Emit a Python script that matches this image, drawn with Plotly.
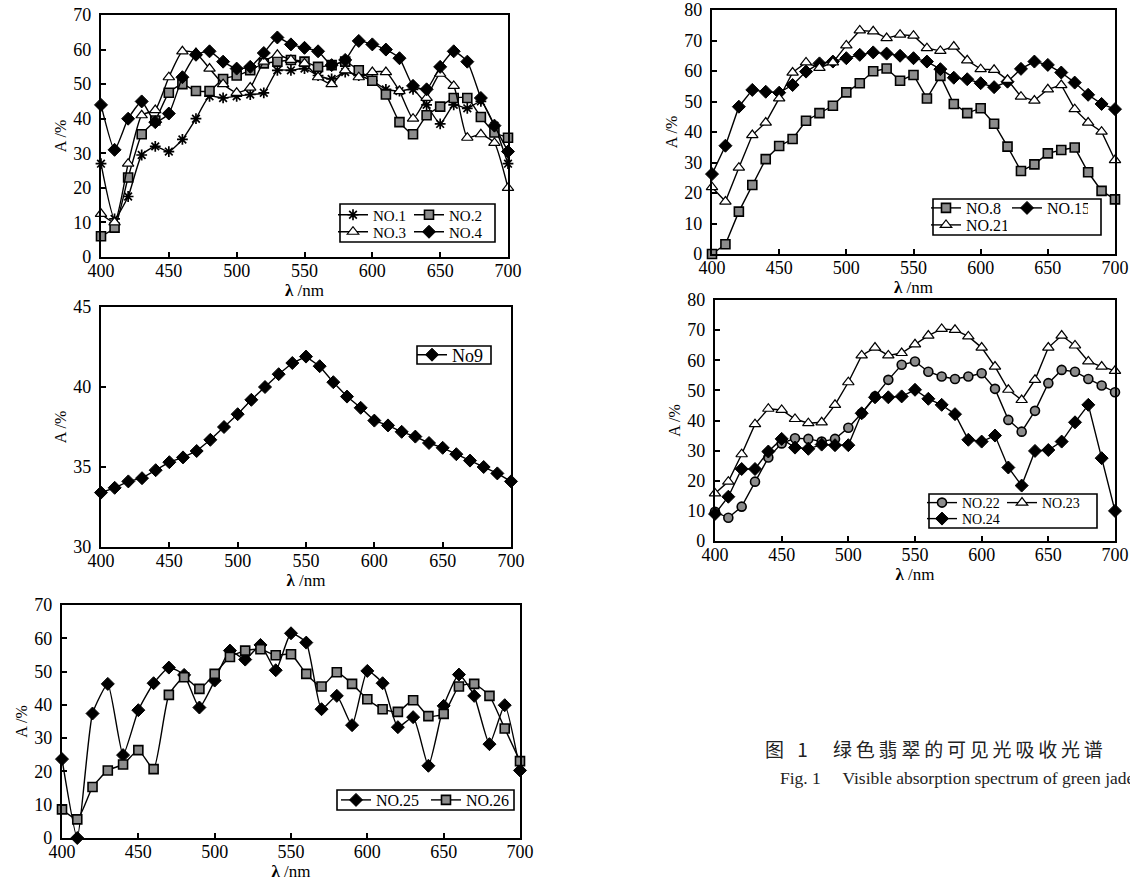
import plotly.graph_objects as go

# ---------------- data ----------------
WL = [400, 410, 420, 430, 440, 450, 460, 470, 480, 490, 500, 510, 520, 530, 540, 550,
      560, 570, 580, 590, 600, 610, 620, 630, 640, 650, 660, 670, 680, 690, 700]

NO1 = [27, 11, 17.5, 29.5, 32, 30.5, 34, 40, 46.5, 46, 46.5, 47, 47.5, 54, 54, 54.5,
       52.5, 51.5, 53.5, 52.5, 51, 48.5, 48, 48.5, 44, 38.5, 44, 43, 45, 38, 27]
NO2 = [6, 8.5, 23, 35.5, 39.5, 47.5, 50, 48, 48, 51.5, 52.5, 54, 56, 56.5, 57, 56.5,
       55, 55.5, 56.5, 54, 51, 47, 39, 35.5, 41, 43.5, 46, 46, 40.5, 36, 34.5]
NO3 = [12.5, 10, 27, 41, 42.5, 52, 59.5, 59, 54.5, 50, 47.5, 49, 56.5, 58.5, 57, 56,
       52, 50, 54, 52, 53.5, 53.5, 48, 40, 46, 53, 49.5, 34.5, 35.5, 33, 20]
NO4 = [44, 31, 40, 45, 39, 41.5, 52, 58.5, 59.5, 56.5, 54.5, 55, 59, 63.5, 61.5, 60.5,
       59.5, 55.5, 57, 62.5, 61.5, 60, 57.5, 49.5, 48.5, 55, 59.5, 56.5, 46, 38, 30.5]

NO9 = [33.4, 33.7, 34.1, 34.3, 34.8, 35.3, 35.6, 36.0, 36.7, 37.5, 38.3, 39.2, 40.0, 40.8,
       41.5, 41.9, 41.3, 40.3, 39.4, 38.7, 37.9, 37.6, 37.2, 36.9, 36.5, 36.2, 35.8, 35.4,
       35.0, 34.6, 34.1]

NO25 = [23.7, 0, 37.4, 46.3, 24.9, 38.4, 46.5, 51.2, 49, 39.2, 47.3, 56.3, 53.6, 58, 50.4,
        61.5, 58.7, 38.7, 42.7, 33.9, 50.2, 46.5, 33.3, 36.3, 21.7, 39.7, 49.1, 42.7, 28.2,
        39.9, 20.3]
NO26 = [8.6, 5.6, 15.3, 20.3, 22.1, 26.4, 20.7, 43, 48.3, 44.8, 49.3, 54.4, 56.3, 56.7,
        54.9, 55.2, 49.3, 45.5, 49.8, 46.3, 41.7, 38.7, 37.9, 41.4, 36.6, 37.3, 45.5, 46.3,
        42.7, 32.9, 23.1]

NO8 = [0, 3.2, 13.9, 22.6, 31.1, 35.4, 37.7, 43.7, 46.2, 48.6, 53, 56, 59.9, 60.8, 56.8,
       58.7, 51, 58.4, 49.2, 46.2, 47.8, 42.7, 35.2, 27.2, 29.4, 33, 34.1, 34.9, 26.8,
       20.7, 17.9]
NO15 = [26.2, 35.5, 48.3, 53.8, 53.2, 52.9, 55.4, 59.8, 62.5, 63.1, 64.2, 65.3, 66.1,
        65.7, 65, 64.2, 63.1, 60.6, 57.8, 57.3, 56, 54.7, 56.5, 60.7, 63.1, 62, 59.5,
        56.2, 52.2, 49.2, 47.5]
NO21 = [21.9, 17.2, 28.3, 39, 43.1, 51, 59.5, 62.8, 61, 62.8, 68.4, 73.3, 73, 70.8, 71.9,
        71.6, 67.5, 66.6, 68, 63.5, 60.6, 60.4, 57.1, 51.6, 50.3, 54, 55.4, 47.5, 43.1,
        40.1, 30.8]

NO22 = [9.7, 7.7, 11.4, 19.7, 27.7, 32.4, 34.1, 33.9, 33, 33.9, 37.6, 42.4, 48, 53.5,
        58.5, 59.6, 56.2, 54.6, 53.8, 54.6, 55.7, 50.5, 40.2, 36.3, 43.2, 52.4, 56.8,
        56.2, 53.8, 51.6, 49.4]
NO23 = [15.8, 19.7, 28.8, 38.8, 43.9, 43.5, 40.5, 39.1, 39.4, 45.2, 52.7, 61.6, 64.2,
        61.6, 62.4, 65.3, 68.2, 70.4, 70.1, 67.9, 64.2, 57.9, 50.2, 46.8, 53.5, 64.2,
        68.2, 64.9, 59.6, 57.9, 56.5]
NO24 = [9, 14.7, 23.9, 23.9, 29.7, 33.9, 31, 30.6, 32, 31.8, 31.8, 42.4, 47.7, 47.7, 48,
        50.2, 47.2, 45.2, 42.1, 33.6, 33, 35, 24.4, 18.4, 29.9, 30.2, 33, 39.4, 45.2,
        27.5, 10]

X_TICKS = [400, 450, 500, 550, 600, 650, 700]
X_TITLE = "<b>λ</b> /nm"
Y_TITLE = "A /%"
CAPTION_CN_NUM = "图\u2002\u20091"
CAPTION_CN = "\u2009".join("绿色翡翠的可见光吸收光谱")
CAPTION_EN = "Fig. 1\u2003 Visible absorption spectrum of green jade"

# ---------------- styling helpers ----------------
W, H = 1130, 884
SERIF = "Liberation Serif"


def px(x):
    return x / W


def py(y):
    return 1 - y / H


MARK = {
    "asterisk": dict(symbol="asterisk-open", size=9, color="black",
                     line=dict(color="black", width=1.7)),
    "square": dict(symbol="square", size=9, color="#8c8c8c",
                   line=dict(color="black", width=1.6)),
    "triangle": dict(symbol="triangle-up", size=10, color="white",
                     line=dict(color="black", width=1.2)),
    "diamond": dict(symbol="diamond", size=10, color="black",
                    line=dict(color="black", width=1)),
    "circle": dict(symbol="circle", size=9, color="#8c8c8c",
                   line=dict(color="black", width=1.6)),
}

fig = go.Figure()


def add(y, name, mark, ax, legend, spline=False):
    sfx = "" if ax == 1 else str(ax)
    line = dict(color="black", width=1.4)
    if spline:
        line.update(shape="spline", smoothing=0.5)
    fig.add_trace(go.Scatter(
        x=WL, y=y, name=name, mode="lines+markers", line=line,
        marker=MARK[mark], xaxis="x" + sfx, yaxis="y" + sfx, legend=legend,
        cliponaxis=False,
    ))


# panel 1
add(NO1, "NO.1", "asterisk", 1, "legend", spline=True)
add(NO2, "NO.2", "square", 1, "legend", spline=True)
add(NO3, "NO.3", "triangle", 1, "legend2", spline=True)
add(NO4, "NO.4", "diamond", 1, "legend2", spline=True)
# panel 2
add(NO9, "No9", "diamond", 2, "legend3")
# panel 3
add(NO25, "NO.25", "diamond", 3, "legend4", spline=True)
add(NO26, "NO.26", "square", 3, "legend4", spline=True)
# panel 4
add(NO8, "NO.8", "square", 4, "legend5")
add(NO15, "NO.15", "diamond", 4, "legend5")
add(NO21, "NO.21", "triangle", 4, "legend6")
# panel 5
add(NO22, "NO.22", "circle", 5, "legend7")
add(NO23, "NO.23", "triangle", 5, "legend7")
add(NO24, "NO.24", "diamond", 5, "legend8")

# axes boxes in pixels: (left, right, top, bottom, y-range, y-step)
PANELS = {
    1: (101, 508, 15, 257, [0, 70], 10),
    2: (101, 511, 307, 547, [30, 45], 5),
    3: (62, 520, 605, 838, [0, 70], 10),
    4: (712, 1115, 10, 254, [0, 80], 10),
    5: (715, 1115, 300, 541, [0, 80], 10),
}

tickfont = dict(family=SERIF, size=18, color="black")
xtitlefont = dict(family=SERIF, size=17, color="black")
ytitlefont = dict(family=SERIF, size=16, color="black")
layout = {}
for i, (l, r, t, b, yr, dy) in PANELS.items():
    sfx = "" if i == 1 else str(i)
    common = dict(showline=True, linewidth=2.3, linecolor="black", mirror=True,
                  ticks="inside", ticklen=5, tickwidth=1.5, tickcolor="black",
                  showgrid=False, zeroline=False, tickfont=tickfont,
                  ticklabeloverflow="allow")
    layout["xaxis" + sfx] = dict(
        common, domain=[px(l), px(r)], range=[400, 700], tickvals=X_TICKS,
        ticklabelstandoff=-4,
        anchor="y" + sfx, title=dict(text=X_TITLE, font=xtitlefont, standoff=0))
    layout["yaxis" + sfx] = dict(
        common, domain=[py(b), py(t)], range=yr, dtick=dy, ticklabelstandoff=4,
        anchor="x" + sfx, title=dict(text=Y_TITLE, font=ytitlefont, standoff=3))


def leg(x, ymid, size, entrywidth=None):
    d = dict(x=px(x), y=py(ymid), xanchor="left", yanchor="middle",
             font=dict(family=SERIF, size=size, color="black"),
             bgcolor="rgba(255,255,255,0)", orientation="h",
             itemwidth=30, borderwidth=0)
    if entrywidth:
        d.update(entrywidth=entrywidth, entrywidthmode="pixels")
    return d


layout["legend"] = leg(333, 215, 15, 31)
layout["legend2"] = leg(333, 232, 15, 31)
layout["legend3"] = leg(412, 355, 18)
layout["legend4"] = leg(336, 800, 16, 45)
layout["legend5"] = leg(926, 208, 16, 36)
layout["legend6"] = leg(926, 225, 16, 36)
layout["legend7"] = leg(922, 503, 14, 35)
layout["legend8"] = leg(922, 519, 14, 35)

boxes = [(340, 495, 204, 242), (417, 491, 346, 364), (337, 514, 790, 810),
         (933, 1101, 199, 235), (929, 1097, 494, 528)]
shapes = [dict(type="rect", xref="paper", yref="paper", x0=px(a), x1=px(b),
               y0=py(d), y1=py(c), line=dict(color="black", width=1.6),
               fillcolor="white", layer="above")
          for a, b, c, d in boxes]

annotations = [
    dict(text=CAPTION_CN_NUM, x=px(763), y=py(748), xref="paper", yref="paper",
         xanchor="left", yanchor="middle", showarrow=False,
         font=dict(family="Noto Sans CJK SC", size=19, color="#222")),
    dict(text=CAPTION_CN, x=px(831), y=py(748), xref="paper", yref="paper",
         xanchor="left", yanchor="middle", showarrow=False,
         font=dict(family="Noto Sans CJK SC", size=19, color="#222")),
    dict(text=CAPTION_EN, x=px(778), y=py(778), xref="paper", yref="paper",
         xanchor="left", yanchor="middle", showarrow=False,
         font=dict(family=SERIF, size=17.5, color="#222")),
]

fig.update_layout(
    width=W, height=H, margin=dict(l=0, r=0, t=0, b=0, autoexpand=False),
    paper_bgcolor="white", plot_bgcolor="white",
    shapes=shapes, annotations=annotations, **layout,
)

# remove the browser's default 8 px page margin so the figure fills the window exactly
fig.write_html("out.html", config={"displayModeBar": False},
               post_script="document.body.style.margin='0px';")
